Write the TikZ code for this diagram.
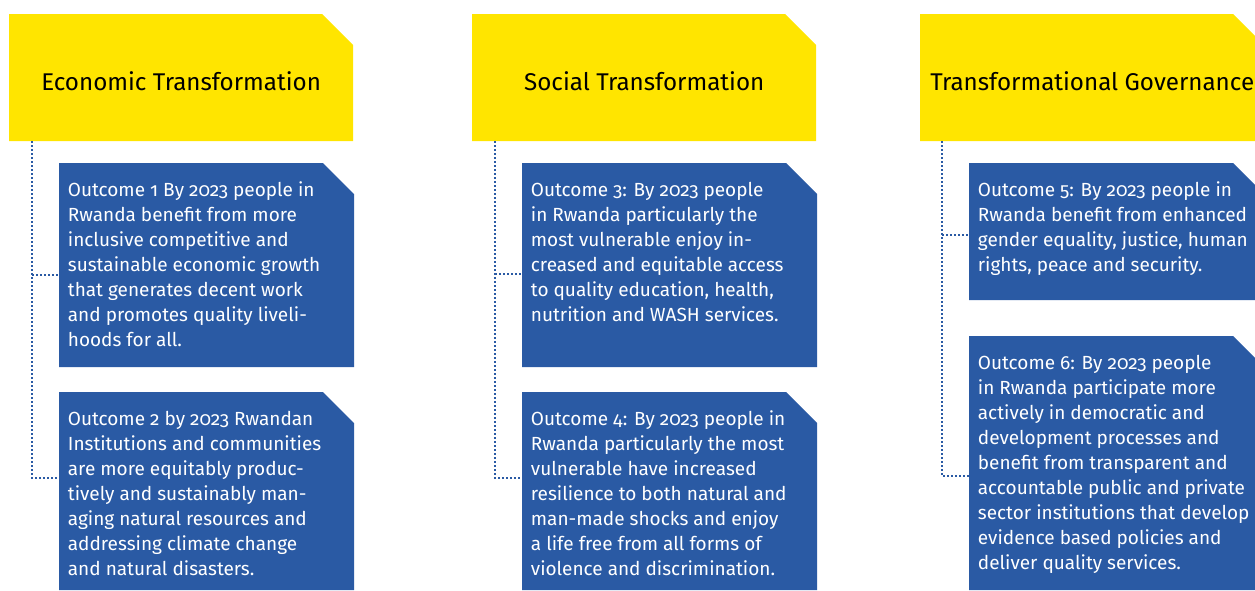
\documentclass[tikz,border=0pt]{standalone}
\usepackage{fontspec}
\setmainfont{Fira Sans}[RawFeature=+onum]
\definecolor{ylw}{HTML}{FFE500}
\definecolor{blu}{HTML}{2A5AA4}
\tikzset{
  cut/.style={path picture={\fill[#1] (path picture bounding box.north west) -- ([xshift=-31pt]path picture bounding box.north east) -- ([yshift=-31pt]path picture bounding box.north east) -- (path picture bounding box.south east) -- (path picture bounding box.south west) -- cycle;}},
  head/.style={cut=ylw, anchor=north west, inner sep=0pt, minimum width=344pt, minimum height=127pt},
  outbox/.style={cut=blu, anchor=north west, inner sep=0pt, minimum width=295pt},
  headtext/.style={anchor=base, inner sep=0pt, text=black, font=\fontsize{24.2}{30}\selectfont},
  outtext/.style={anchor=north west, inner sep=0pt, align=left, text=white, font=\fontsize{19}{25}\selectfont},
  dots/.style={draw=blu, line width=1.8pt, dash pattern=on 1.8pt off 2.2pt},
}
\begin{document}
\begin{tikzpicture}[x=1pt,y=-1pt]
\useasboundingbox (0,0) rectangle (1255,590);
\clip (0,0) rectangle (1255,590);
% column 1
\node[head] (y1) at (9,14) {};
\node[headtext] (h1) at ([yshift=-12.5pt]y1.center) {Economic Transformation};
\node[outbox, minimum height=204pt] (o1) at (59,163) {};
\node[outbox, minimum height=198pt] (o2) at (59,392) {};
\node[outtext] (t1) at ([xshift=8.7pt,yshift=-15.5pt]o1.north west) {\strut Outcome 1 By 2023 people in\\Rwanda benefit from more\\inclusive competitive and\\sustainable economic growth\\that generates decent work\\and promotes quality liveli-\\hoods for all.};
\node[outtext] (t2) at ([xshift=8.7pt,yshift=-15.5pt]o2.north west) {\strut Outcome 2 by 2023 Rwandan\\Institutions and communities\\are more equitably produc-\\tively and sustainably man-\\aging natural resources and\\addressing climate change\\and natural disasters.};
\coordinate (c1) at ([xshift=23pt]y1.south west);
\coordinate (j1) at ([yshift=-10pt]o1.west);
\coordinate (j2) at ([yshift=13pt]o2.west);
\draw[dots] (c1) |- (j2);
\draw[dots] (c1 |- j1) -- (j1);
% column 2
\node[head] (y2) at (472,14) {};
\node[headtext] (h2) at ([yshift=-12.5pt]y2.center) {Social Transformation};
\node[outbox, minimum height=204pt] (o3) at (522,163) {};
\node[outbox, minimum height=198pt] (o4) at (522,392) {};
\node[outtext] (t3) at ([xshift=8.7pt,yshift=-15.5pt]o3.north west) {\strut Outcome 3: By 2023 people\\in Rwanda particularly the\\most vulnerable enjoy in-\\creased and equitable access\\to quality education, health,\\nutrition and WASH services.};
\node[outtext] (t4) at ([xshift=8.7pt,yshift=-15.5pt]o4.north west) {\strut Outcome 4: By 2023 people in\\Rwanda particularly the most\\vulnerable have increased\\resilience to both natural and\\man-made shocks and enjoy\\a life free from all forms of\\violence and discrimination.};
\coordinate (c2) at ([xshift=23pt]y2.south west);
\coordinate (j3) at ([yshift=-9pt]o3.west);
\coordinate (j4) at ([yshift=13pt]o4.west);
\draw[dots] (c2) |- (j4);
\draw[dots] (c2 |- j3) -- (j3);
% column 3
\node[head] (y3) at (920,14) {};
\node[headtext] (h3) at ([yshift=-12.5pt]y3.center) {Transformational Governance};
\node[outbox, minimum height=137pt] (o5) at (969,163) {};
\node[outbox, minimum height=254pt] (o6) at (969,336) {};
\node[outtext] (t5) at ([xshift=8.7pt,yshift=-15.5pt]o5.north west) {\strut Outcome 5: By 2023 people in\\Rwanda benefit from enhanced\\gender equality, justice, human\\rights, peace and security.};
\node[outtext] (t6) at ([xshift=8.7pt,yshift=-15.5pt]o6.north west) {\strut Outcome 6: By 2023 people\\in Rwanda participate more\\actively in democratic and\\development processes and\\benefit from transparent and\\accountable public and private\\sector institutions that develop\\evidence based policies and\\deliver quality services.};
\coordinate (c3) at ([xshift=22pt]y3.south west);
\coordinate (j5) at ([yshift=-3.5pt]o5.west);
\coordinate (j6) at ([yshift=-13pt]o6.west);
\draw[dots] (c3) |- (j6);
\draw[dots] (c3 |- j5) -- (j5);
\end{tikzpicture}
\end{document}
